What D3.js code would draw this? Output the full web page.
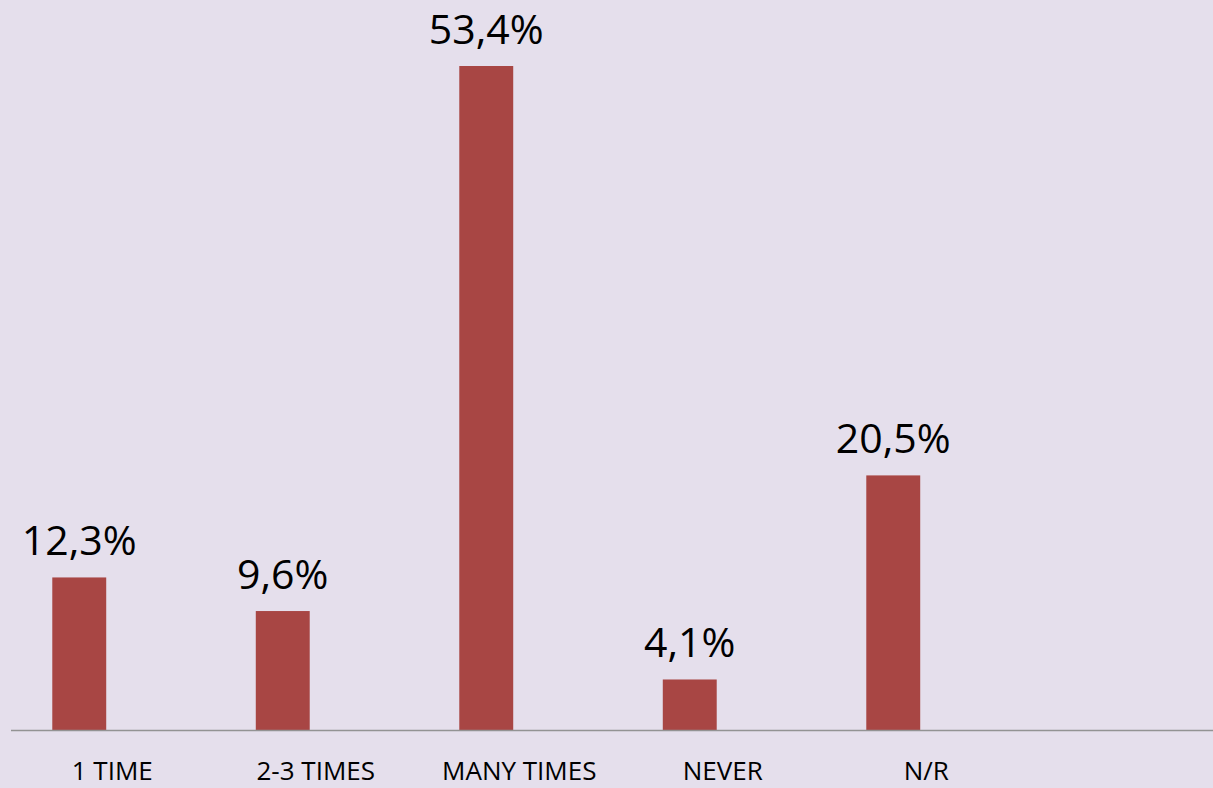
<!DOCTYPE html>
<html lang="en">
<head>
    <meta charset="UTF-8">
    <title>Times</title>
    <script src="https://d3js.org/d3.v7.min.js"></script>
    <style>
        body { margin: 0; background: #e5dfec; }
        svg { display: block; }
        text.value {
            fill: black;
            text-anchor: middle;
            font-size: 41px;
            font-family: 'Open Sans', sans-serif;
        }
        text.cat {
            fill: black;
            text-anchor: middle;
            font-size: 26px;
            font-family: 'Open Sans', sans-serif;
        }
    </style>
</head>
<body>
<svg height="788" width="1213"></svg>
<script>
    const categories = ["1 TIME", "2-3 TIMES", "MANY TIMES", "NEVER", "N/R"];
    const values = [12.3, 9.6, 53.4, 4.1, 20.5];
    const valueLabels = ["12,3%", "9,6%", "53,4%", "4,1%", "20,5%"];

    const svg = d3.select("svg");
    const baseY = 730.5;
    const step = 203.5;

    const x = d3.scaleBand().domain(categories)
            .range([-22.5, -22.5 + step * categories.length])
            .paddingInner(0.735).paddingOuter(0.3675);
    const y = d3.scaleLinear().domain([0, 53.4]).range([baseY, 66]);

    svg.append("rect").attr("width", 1213).attr("height", 788).attr("fill", "#e5dfec");

    svg.selectAll("rect.bar").data(values).enter().append("rect")
            .attr("class", "bar")
            .attr("x", (d, i) => x(categories[i]))
            .attr("width", x.bandwidth())
            .attr("y", d => y(d))
            .attr("height", d => baseY - y(d))
            .attr("fill", "#a84644");

    svg.append("line")
            .attr("x1", 11).attr("x2", 1213)
            .attr("y1", baseY).attr("y2", baseY)
            .attr("stroke", "#939393").attr("stroke-width", 1.5);

    svg.selectAll("text.value").data(values).enter().append("text")
            .attr("class", "value")
            .attr("x", (d, i) => x(categories[i]) + x.bandwidth() / 2)
            .attr("y", d => y(d) - 22)
            .text((d, i) => valueLabels[i]);

    svg.selectAll("text.cat").data(categories).enter().append("text")
            .attr("class", "cat")
            .attr("x", d => x(d) + x.bandwidth() / 2 + 33)
            .attr("y", 780)
            .text(d => d);
</script>
</body>
</html>
